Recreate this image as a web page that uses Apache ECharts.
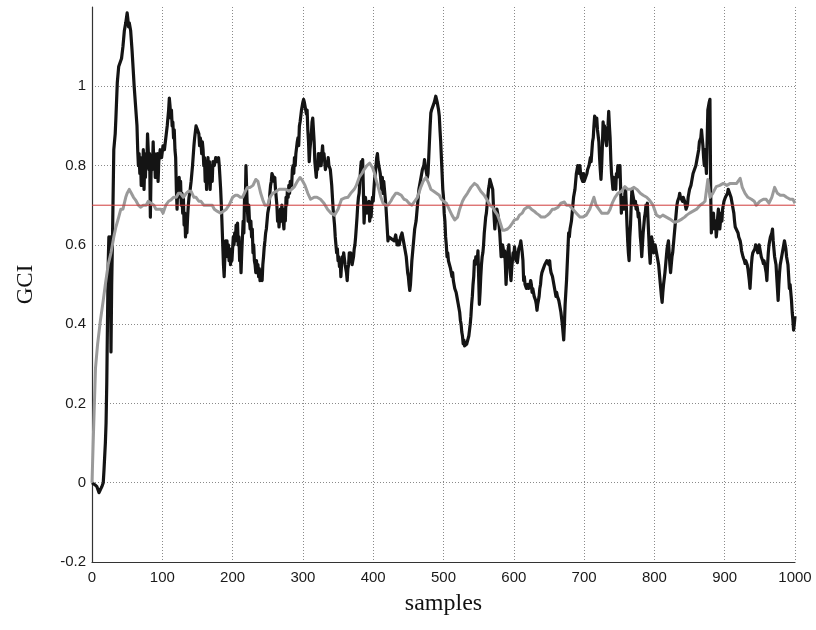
<!DOCTYPE html>
<html>
<head>
<meta charset="utf-8">
<script src="https://cdn.jsdelivr.net/npm/echarts@6/dist/echarts.min.js"></script>
<style>
  html, body { margin: 0; padding: 0; background: #fff; }
  #chart { width: 816px; height: 630px; }
</style>
</head>
<body>
<div id="chart"></div>
<script>
// GCI trace (black): [sample, value]
const blackTrace = [
[0,0],[4,-0.005],[7,-0.01],[10,-0.025],[12,-0.02],[14,-0.01],[16,0],[17,0.03],[19,0.1],[20,0.15],[21,0.25],[22,0.4],[23,0.55],[24,0.62],[25,0.6],[26,0.62],[27,0.33],[28,0.5],[29,0.6],[30,0.72],
[31,0.84],[33,0.88],[34,0.92],[36,1.01],[38,1.05],[40,1.06],[42,1.07],[44,1.1],[46,1.14],[48,1.16],[50,1.185],[51,1.17],[52,1.15],[53,1.16],[55,1.14],[57,1.09],[59,1.03],[60,1.0],[62,0.95],[64,0.9],
[65,0.84],[66,0.8],[67,0.83],[68,0.78],[69,0.82],[70,0.75],[71,0.81],[72,0.78],[73,0.84],[74,0.74],[75,0.8],[76,0.77],[77,0.83],[78,0.8],[79,0.88],[80,0.84],[81,0.79],[82,0.83],[83,0.67],[84,0.78],
[85,0.82],[86,0.79],[87,0.86],[88,0.8],[89,0.83],[90,0.77],[91,0.82],[92,0.79],[93,0.83],[94,0.76],[95,0.81],[97,0.84],[99,0.82],[101,0.85],[103,0.84],[105,0.87],[107,0.9],[109,0.94],[110,0.97],[111,0.95],
[112,0.92],[113,0.94],[114,0.9],[115,0.91],[116,0.87],[117,0.89],[118,0.84],[119,0.82],[120,0.74],[121,0.69],[122,0.75],[123,0.72],[124,0.77],[125,0.74],[126,0.76],[127,0.7],[128,0.73],[129,0.68],[130,0.72],[131,0.65],
[132,0.68],[133,0.62],[134,0.66],[135,0.63],[136,0.67],[137,0.7],[138,0.72],[139,0.73],[141,0.76],[143,0.8],[145,0.85],[146,0.87],[148,0.9],[150,0.89],[152,0.88],[153,0.85],[154,0.87],[155,0.86],[156,0.83],[157,0.86],
[158,0.84],[159,0.8],[160,0.82],[161,0.76],[162,0.79],[163,0.74],[164,0.8],[165,0.82],[166,0.77],[167,0.81],[168,0.74],[169,0.78],[170,0.8],[171,0.76],[172,0.81],[174,0.8],[176,0.82],[178,0.81],[180,0.82],[181,0.8],
[182,0.77],[183,0.74],[184,0.7],[185,0.65],[186,0.6],[187,0.55],[188,0.52],[189,0.57],[190,0.61],[191,0.58],[192,0.61],[193,0.57],[194,0.6],[195,0.56],[196,0.59],[197,0.55],[198,0.58],[199,0.56],[200,0.59],[201,0.62],
[202,0.6],[203,0.63],[204,0.61],[205,0.65],[206,0.62],[207,0.655],[208,0.6],[209,0.62],[210,0.56],[211,0.58],[212,0.53],[213,0.58],[214,0.62],[215,0.66],[216,0.63],[217,0.72],[218,0.7],[219,0.8],[220,0.74],[221,0.69],
[222,0.66],[223,0.7],[224,0.66],[225,0.64],[226,0.66],[227,0.62],[228,0.64],[229,0.58],[230,0.6],[231,0.56],[232,0.55],[233,0.53],[234,0.56],[235,0.53],[236,0.55],[237,0.52],[238,0.54],[239,0.51],[240,0.505],[241,0.53],
[242,0.51],[243,0.55],[244,0.57],[245,0.595],[246,0.61],[247,0.63],[248,0.64],[250,0.68],[252,0.7],[253,0.73],[254,0.75],[255,0.76],[256,0.78],[257,0.785],[258,0.77],[259,0.76],[260,0.77],[261,0.74],[262,0.74],[263,0.7],
[264,0.66],[265,0.68],[266,0.645],[267,0.67],[268,0.69],[269,0.66],[270,0.7],[271,0.68],[272,0.66],[273,0.64],[274,0.69],[275,0.66],[276,0.72],[277,0.7],[278,0.74],[279,0.72],[280,0.75],[281,0.73],[282,0.76],[283,0.765],
[284,0.75],[285,0.79],[286,0.8],[287,0.78],[288,0.82],[289,0.8],[290,0.83],[292,0.86],[293,0.87],[294,0.85],[295,0.9],[296,0.91],[298,0.94],[299,0.95],[300,0.96],[301,0.967],[302,0.96],[303,0.965],[304,0.955],[305,0.93],
[306,0.94],[307,0.89],[308,0.86],[309,0.81],[310,0.84],[311,0.86],[312,0.88],[313,0.91],[314,0.92],[315,0.89],[316,0.86],[317,0.81],[318,0.79],[319,0.77],[320,0.8],[321,0.79],[322,0.83],[323,0.82],[324,0.8],[325,0.83],
[326,0.8],[327,0.83],[328,0.85],[329,0.82],[330,0.83],[331,0.81],[332,0.79],[333,0.79],[334,0.81],[335,0.8],[336,0.82],[337,0.8],[338,0.8],[339,0.79],[340,0.77],[341,0.75],[342,0.72],[343,0.69],[344,0.67],[345,0.65],
[346,0.62],[347,0.6],[348,0.58],[349,0.59],[350,0.56],[351,0.57],[352,0.545],[353,0.56],[354,0.52],[355,0.55],[356,0.57],[357,0.56],[358,0.58],[359,0.58],[360,0.55],[361,0.545],[362,0.53],[363,0.51],[364,0.54],[365,0.55],
[366,0.58],[367,0.56],[368,0.58],[369,0.57],[370,0.55],[371,0.545],[372,0.57],[373,0.59],[374,0.6],[375,0.62],[376,0.645],[377,0.67],[378,0.7],[379,0.72],[380,0.73],[381,0.76],[382,0.79],[383,0.81],[384,0.8],[385,0.815],
[386,0.74],[387,0.655],[388,0.69],[389,0.72],[390,0.7],[391,0.68],[392,0.705],[393,0.68],[394,0.71],[395,0.66],[396,0.69],[397,0.67],[398,0.7],[399,0.72],[400,0.71],[401,0.74],[402,0.765],[403,0.78],[404,0.8],[405,0.82],
[406,0.83],[407,0.81],[408,0.8],[409,0.79],[410,0.78],[411,0.78],[412,0.74],[413,0.77],[414,0.73],[415,0.76],[416,0.74],[417,0.72],[418,0.7],[419,0.67],[420,0.64],[421,0.61],[422,0.62],[424,0.62],[426,0.615],[428,0.62],
[430,0.61],[432,0.625],[433,0.62],[434,0.6],[435,0.61],[437,0.6],[439,0.62],[441,0.63],[443,0.61],[444,0.6],[445,0.59],[446,0.58],[447,0.57],[448,0.55],[449,0.53],[450,0.52],[451,0.5],[452,0.485],[453,0.5],[454,0.53],
[455,0.56],[456,0.58],[457,0.6],[458,0.62],[459,0.64],[460,0.65],[461,0.66],[462,0.68],[463,0.7],[464,0.72],[465,0.74],[466,0.745],[468,0.77],[470,0.79],[472,0.8],[473,0.815],[474,0.8],[475,0.79],[476,0.79],[477,0.77],
[478,0.78],[479,0.82],[480,0.86],[481,0.9],[482,0.933],[483,0.94],[485,0.95],[487,0.96],[489,0.975],[490,0.97],[491,0.96],[492,0.96],[493,0.94],[494,0.925],[495,0.89],[496,0.86],[497,0.82],[498,0.78],[499,0.74],[500,0.72],
[501,0.68],[502,0.66],[503,0.62],[504,0.6],[505,0.57],[506,0.58],[507,0.56],[508,0.555],[509,0.56],[510,0.54],[511,0.535],[512,0.52],[513,0.53],[514,0.51],[515,0.5],[516,0.49],[517,0.49],[518,0.48],[519,0.47],[520,0.46],
[521,0.45],[522,0.44],[523,0.43],[524,0.41],[525,0.4],[526,0.38],[527,0.37],[528,0.35],[529,0.36],[530,0.345],[531,0.35],[532,0.34],[533,0.35],[534,0.35],[535,0.355],[536,0.37],[537,0.375],[538,0.4],[539,0.42],[540,0.45],
[541,0.47],[542,0.5],[543,0.52],[544,0.56],[545,0.55],[546,0.57],[547,0.575],[548,0.56],[549,0.585],[550,0.52],[551,0.45],[552,0.48],[553,0.52],[554,0.55],[555,0.57],[556,0.58],[557,0.6],[558,0.63],[559,0.65],[560,0.67],
[561,0.68],[562,0.7],[563,0.72],[564,0.74],[565,0.75],[566,0.765],[567,0.76],[568,0.77],[569,0.77],[570,0.74],[571,0.7],[572,0.67],[573,0.64],[574,0.66],[575,0.67],[576,0.69],[577,0.695],[578,0.67],[579,0.65],[580,0.63],
[581,0.6],[582,0.57],[583,0.58],[584,0.6],[585,0.59],[586,0.57],[587,0.585],[588,0.55],[589,0.5],[590,0.54],[591,0.57],[592,0.59],[593,0.6],[594,0.56],[595,0.53],[596,0.51],[597,0.54],[598,0.56],[599,0.58],[600,0.57],
[601,0.595],[602,0.58],[603,0.56],[604,0.58],[605,0.555],[606,0.57],[607,0.59],[608,0.59],[609,0.6],[610,0.61],[611,0.607],[612,0.58],[613,0.56],[614,0.51],[615,0.52],[616,0.5],[617,0.5],[618,0.49],[619,0.485],[620,0.5],
[621,0.49],[622,0.49],[623,0.5],[624,0.51],[625,0.5],[626,0.48],[627,0.49],[628,0.48],[629,0.47],[630,0.47],[631,0.46],[632,0.45],[633,0.435],[634,0.45],[635,0.46],[636,0.47],[637,0.49],[638,0.5],[639,0.52],[640,0.53],
[641,0.53],[642,0.54],[643,0.54],[644,0.55],[645,0.55],[646,0.553],[647,0.56],[648,0.56],[649,0.56],[650,0.55],[651,0.56],[652,0.54],[653,0.53],[654,0.53],[655,0.52],[656,0.51],[657,0.5],[658,0.49],[659,0.48],[660,0.47],
[661,0.48],[662,0.47],[663,0.465],[664,0.46],[665,0.45],[666,0.44],[667,0.43],[668,0.425],[669,0.4],[670,0.38],[671,0.36],[672,0.4],[673,0.45],[674,0.48],[675,0.51],[676,0.55],[677,0.59],[678,0.63],[679,0.62],[680,0.64],
[681,0.65],[682,0.66],[683,0.68],[684,0.7],[685,0.72],[686,0.73],[687,0.74],[688,0.76],[689,0.78],[690,0.79],[691,0.8],[692,0.79],[693,0.78],[694,0.8],[695,0.78],[696,0.77],[697,0.77],[698,0.76],[699,0.78],[700,0.76],
[701,0.755],[702,0.77],[703,0.77],[704,0.78],[705,0.79],[706,0.79],[707,0.8],[708,0.8],[709,0.82],[710,0.81],[711,0.815],[712,0.86],[713,0.87],[714,0.9],[715,0.925],[716,0.91],[717,0.9],[718,0.92],[719,0.89],[720,0.89],
[721,0.86],[722,0.82],[723,0.79],[724,0.765],[725,0.8],[726,0.85],[727,0.91],[728,0.89],[729,0.9],[730,0.88],[731,0.86],[732,0.85],[733,0.88],[734,0.9],[735,0.937],[736,0.9],[737,0.87],[738,0.815],[739,0.78],[740,0.76],
[741,0.74],[742,0.77],[743,0.75],[744,0.76],[745,0.74],[746,0.78],[747,0.77],[748,0.8],[749,0.78],[750,0.79],[751,0.8],[752,0.74],[753,0.68],[754,0.72],[755,0.7],[756,0.72],[757,0.69],[758,0.73],[759,0.74],[760,0.7],
[761,0.65],[762,0.61],[763,0.58],[764,0.56],[765,0.62],[766,0.65],[767,0.7],[768,0.74],[769,0.73],[770,0.72],[771,0.72],[772,0.7],[773,0.71],[774,0.69],[775,0.7],[776,0.69],[777,0.67],[778,0.68],[779,0.655],[780,0.62],
[781,0.6],[782,0.57],[783,0.6],[784,0.63],[785,0.65],[786,0.67],[787,0.68],[788,0.7],[789,0.69],[790,0.705],[791,0.66],[792,0.62],[793,0.58],[794,0.553],[795,0.59],[796,0.62],[797,0.61],[798,0.6],[799,0.58],[800,0.58],
[801,0.6],[802,0.59],[803,0.59],[804,0.57],[805,0.56],[806,0.55],[807,0.53],[808,0.51],[809,0.49],[810,0.47],[811,0.455],[812,0.48],[813,0.5],[814,0.5],[815,0.53],[816,0.55],[817,0.57],[818,0.59],[819,0.6],[820,0.61],
[821,0.58],[822,0.55],[823,0.53],[824,0.55],[825,0.57],[826,0.58],[827,0.6],[828,0.62],[829,0.64],[830,0.66],[831,0.68],[832,0.7],[833,0.71],[834,0.71],[835,0.72],[836,0.73],[837,0.72],[838,0.72],[839,0.72],[840,0.71],
[841,0.72],[842,0.72],[843,0.71],[844,0.7],[845,0.69],[846,0.695],[847,0.7],[848,0.72],[849,0.73],[850,0.74],[851,0.74],[852,0.75],[853,0.76],[854,0.77],[855,0.78],[856,0.78],[857,0.79],[858,0.79],[859,0.8],[860,0.8],
[861,0.82],[862,0.83],[863,0.84],[864,0.86],[865,0.865],[866,0.87],[867,0.89],[868,0.87],[869,0.85],[870,0.82],[871,0.8],[872,0.84],[873,0.81],[874,0.78],[875,0.86],[876,0.94],[877,0.95],[878,0.96],[879,0.967],[880,0.74],
[881,0.63],[882,0.66],[883,0.64],[884,0.68],[885,0.65],[886,0.64],[887,0.66],[888,0.62],[889,0.64],[890,0.67],[891,0.69],[892,0.67],[893,0.64],[894,0.66],[895,0.68],[896,0.66],[897,0.69],[898,0.7],[899,0.71],[900,0.713],
[901,0.72],[902,0.72],[903,0.72],[904,0.73],[905,0.74],[906,0.74],[907,0.73],[908,0.73],[909,0.72],[910,0.72],[911,0.7],[912,0.69],[913,0.68],[914,0.66],[915,0.645],[916,0.65],[917,0.64],[918,0.64],[919,0.63],[920,0.62],
[921,0.62],[922,0.61],[923,0.6],[924,0.585],[925,0.58],[926,0.57],[927,0.57],[928,0.56],[929,0.553],[930,0.56],[931,0.56],[932,0.55],[933,0.54],[934,0.54],[935,0.51],[936,0.49],[937,0.52],[938,0.55],[939,0.57],[940,0.58],
[941,0.58],[942,0.58],[943,0.59],[944,0.6],[945,0.6],[946,0.59],[947,0.58],[948,0.59],[949,0.6],[950,0.59],[951,0.58],[952,0.57],[953,0.57],[954,0.56],[955,0.553],[956,0.56],[957,0.55],[958,0.54],[959,0.53],[960,0.51],
[961,0.55],[962,0.58],[963,0.6],[964,0.61],[965,0.62],[966,0.62],[967,0.63],[968,0.64],[969,0.61],[970,0.59],[971,0.57],[972,0.56],[973,0.55],[974,0.52],[975,0.49],[976,0.46],[977,0.5],[978,0.53],[979,0.55],[980,0.56],
[981,0.57],[982,0.58],[983,0.59],[984,0.6],[985,0.61],[986,0.61],[987,0.59],[988,0.57],[989,0.56],[990,0.55],[991,0.52],[992,0.49],[993,0.5],[994,0.48],[995,0.46],[996,0.43],[997,0.41],[998,0.385],[999,0.4],[1000,0.42]
];

// Smoothed GCI trace (gray): [sample, value]
const grayTrace = [
[0,0],[2,0.12],[5,0.29],[8,0.35],[12,0.41],[16,0.46],[19,0.5],[23,0.55],[27,0.58],[31,0.62],[34,0.645],[38,0.67],[41,0.69],[44,0.69],[46,0.695],[48,0.72],[50,0.73],[53,0.74],[56,0.73],[59,0.72],
[62,0.713],[66,0.7],[69,0.695],[73,0.7],[77,0.7],[80,0.71],[84,0.705],[88,0.7],[91,0.69],[95,0.69],[98,0.69],[101,0.68],[105,0.7],[109,0.71],[112,0.713],[116,0.72],[120,0.72],[123,0.73],[126,0.73],[130,0.72],
[134,0.73],[137,0.735],[141,0.735],[145,0.72],[148,0.72],[152,0.71],[155,0.71],[159,0.7],[163,0.7],[167,0.7],[171,0.7],[174,0.69],[178,0.685],[183,0.68],[187,0.685],[191,0.69],[195,0.7],[200,0.72],[204,0.725],[207,0.725],
[211,0.72],[214,0.72],[218,0.735],[221,0.745],[225,0.745],[229,0.75],[233,0.765],[236,0.76],[240,0.73],[243,0.713],[246,0.7],[250,0.7],[253,0.72],[257,0.73],[262,0.735],[266,0.74],[271,0.74],[276,0.74],[280,0.735],[284,0.74],
[288,0.747],[292,0.76],[296,0.77],[300,0.76],[303,0.75],[307,0.73],[311,0.715],[316,0.72],[320,0.72],[325,0.715],[330,0.705],[335,0.69],[340,0.68],[345,0.675],[350,0.69],[355,0.715],[359,0.718],[364,0.72],[368,0.73],[373,0.74],
[376,0.75],[380,0.77],[384,0.78],[387,0.79],[391,0.8],[395,0.806],[399,0.795],[402,0.78],[404,0.765],[408,0.74],[411,0.72],[414,0.705],[418,0.7],[421,0.7],[425,0.71],[428,0.72],[432,0.73],[435,0.73],[440,0.725],[444,0.715],
[447,0.713],[451,0.705],[455,0.7],[459,0.71],[463,0.72],[468,0.747],[471,0.76],[475,0.77],[479,0.755],[482,0.74],[486,0.735],[490,0.73],[494,0.725],[497,0.715],[500,0.71],[504,0.705],[508,0.69],[512,0.675],[516,0.663],[520,0.67],
[523,0.69],[527,0.71],[530,0.72],[534,0.73],[539,0.745],[544,0.755],[548,0.75],[553,0.735],[558,0.725],[563,0.71],[566,0.7],[570,0.695],[573,0.685],[577,0.675],[580,0.66],[584,0.637],[587,0.637],[591,0.64],[594,0.645],[598,0.655],
[601,0.663],[605,0.665],[608,0.675],[612,0.68],[615,0.69],[619,0.695],[622,0.695],[625,0.69],[629,0.685],[632,0.68],[636,0.675],[639,0.67],[644,0.67],[648,0.675],[651,0.68],[655,0.69],[658,0.69],[663,0.695],[667,0.705],[672,0.708],
[675,0.7],[679,0.7],[684,0.69],[689,0.68],[694,0.67],[698,0.67],[703,0.675],[708,0.69],[714,0.72],[717,0.7],[721,0.69],[725,0.68],[729,0.68],[734,0.68],[737,0.69],[740,0.705],[744,0.72],[748,0.73],[753,0.735],[758,0.747],
[762,0.74],[766,0.74],[771,0.745],[775,0.74],[780,0.73],[784,0.725],[789,0.72],[793,0.713],[798,0.7],[803,0.675],[808,0.67],[812,0.675],[817,0.67],[822,0.665],[826,0.66],[829,0.657],[834,0.66],[839,0.665],[843,0.67],[846,0.675],
[850,0.68],[855,0.685],[860,0.69],[865,0.7],[869,0.705],[872,0.71],[876,0.765],[879,0.72],[883,0.73],[888,0.747],[893,0.75],[898,0.755],[903,0.75],[908,0.755],[913,0.755],[917,0.755],[922,0.768],[925,0.745],[929,0.73],[933,0.72],
[938,0.715],[942,0.71],[945,0.7],[950,0.71],[955,0.715],[959,0.715],[963,0.705],[967,0.72],[971,0.745],[975,0.73],[979,0.725],[984,0.725],[988,0.72],[993,0.715],[997,0.715],[1000,0.705]
];

// Threshold level and axis ticks
const threshold = 0.7;
const xTicks = [0, 100, 200, 300, 400, 500, 600, 700, 800, 900, 1000];
const yTicks = [-0.2, 0, 0.2, 0.4, 0.6, 0.8, 1];
const yMax = 1.2;

const chart = echarts.init(document.getElementById('chart'), null, { renderer: 'canvas' });

const gridLine = { show: true, lineStyle: { color: '#8a8a8a', type: [1, 2], width: 1 } };
const tickFont = { fontFamily: 'Liberation Sans, Arial, sans-serif', fontSize: 15, color: '#1a1a1a' };
const serifFont = 'Liberation Serif, Times New Roman, serif';

chart.setOption({
  animation: false,
  backgroundColor: '#ffffff',
  grid: { left: 92, right: 21, top: 7, bottom: 68, containLabel: false },
  xAxis: {
    type: 'value',
    min: xTicks[0],
    max: xTicks[xTicks.length - 1],
    interval: xTicks[1] - xTicks[0],
    name: 'samples',
    nameLocation: 'middle',
    nameGap: 30,
    nameTextStyle: { fontFamily: serifFont, fontSize: 24, color: '#111' },
    axisLine: { show: true, onZero: false, lineStyle: { color: '#333', width: 1.2 } },
    axisTick: { show: false },
    axisLabel: Object.assign({
      margin: 8,
      formatter: function (v) { return String(v); }
    }, tickFont),
    splitLine: Object.assign({ showMinLine: false, showMaxLine: true }, gridLine)
  },
  yAxis: {
    type: 'value',
    min: yTicks[0],
    max: yMax,
    interval: 0.2,
    name: 'GCI',
    nameLocation: 'middle',
    nameGap: 55,
    nameRotate: 90,
    nameTextStyle: { fontFamily: serifFont, fontSize: 23, color: '#111' },
    axisLine: { show: true, onZero: false, lineStyle: { color: '#333', width: 1.2 } },
    axisTick: { show: false },
    axisLabel: Object.assign({
      margin: 6,
      showMaxLabel: false,
      formatter: function (v) {
        const r = Math.round(v * 10) / 10;
        return yTicks.indexOf(r) >= 0 ? String(r) : '';
      }
    }, tickFont),
    splitLine: Object.assign({ showMinLine: false, showMaxLine: false }, gridLine)
  },
  series: [
    {
      name: 'GCI',
      type: 'line',
      data: blackTrace,
      showSymbol: false,
      lineStyle: { color: '#141414', width: 3.2, join: 'round' },
      z: 2
    },
    {
      name: 'GCI smoothed',
      type: 'line',
      data: grayTrace,
      showSymbol: false,
      lineStyle: { color: '#9a9a9a', width: 3, join: 'round' },
      z: 3
    },
    {
      name: 'threshold',
      type: 'line',
      data: [[xTicks[0], threshold], [xTicks[xTicks.length - 1], threshold]],
      showSymbol: false,
      lineStyle: { color: '#d03a3a', width: 1 },
      z: 4
    }
  ]
});
</script>
</body>
</html>
